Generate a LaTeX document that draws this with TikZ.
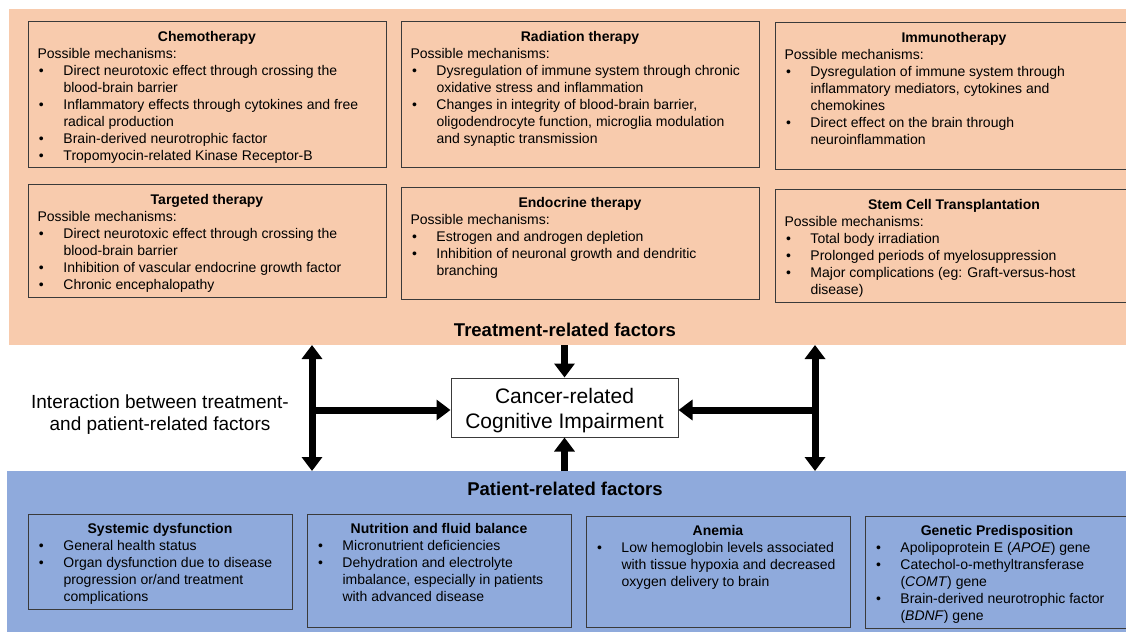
\documentclass[tikz,border=0pt]{standalone}
\usepackage{fontspec}
\setmainfont{Liberation Sans}
\usetikzlibrary{arrows.meta,positioning}
\definecolor{treatcolor}{HTML}{F8CBAD}
\definecolor{patientcolor}{HTML}{8FAADC}
\definecolor{boxline}{HTML}{3A3A3A}
\tikzset{
bgpanel/.style={anchor=north west,inner sep=0pt,outer sep=0pt,fill=#1},
mechbox/.style={draw=boxline,line width=1pt,anchor=north west,inner xsep=9.5pt,inner ysep=#1,outer sep=0pt},
mechbox/.default=9pt,
fatarr/.style={line width=7pt,-{Triangle[width=20pt,length=14pt]}},
fatdarr/.style={line width=7pt,{Triangle[width=20pt,length=14pt]}-{Triangle[width=20pt,length=14pt]}},
}
\tikzstyle{every node}=[font=\fontsize{14}{17}\selectfont]
\newcommand{\bitem}[1]{\par\hangindent=26pt\hangafter=1\noindent\makebox[26pt][l]{\hspace{1.5pt}\textbullet}#1}
\newcommand{\mechtext}[4]{\parbox[c][#2][t]{#1}{\raggedright{\centering\textbf{#3}\par}#4}}

\begin{document}
\begin{tikzpicture}[x=1pt,y=-1pt]
        \useasboundingbox (0,0) rectangle (1126,636);

        \node[bgpanel=treatcolor,minimum width=1117pt,minimum height=336pt] (treat) at (9,9) {};
        \node[bgpanel=patientcolor,minimum width=1119pt,minimum height=161pt] (patient) at (7,471) {};

        \node[mechbox] (chemo) at (28,22) {\mechtext{339pt}{128pt}{Chemotherapy}{Possible mechanisms:
        \bitem{Direct neurotoxic effect through crossing the\newline blood-brain barrier}
        \bitem{Inflammatory effects through cytokines and free\newline radical production}
        \bitem{Brain-derived neurotrophic factor}
        \bitem{Tropomyocin-related Kinase Receptor-B}}};
        \node[mechbox] (radio) at (401,22) {\mechtext{339pt}{128pt}{Radiation therapy}{Possible mechanisms:
        \bitem{Dysregulation of immune system through chronic\newline oxidative stress and inflammation}
        \bitem{Changes in integrity of blood-brain barrier,\newline oligodendrocyte function, microglia modulation\newline and synaptic transmission}}};
        \node[mechbox] (immuno) at (775,23) {\mechtext{339pt}{129pt}{Immunotherapy}{Possible mechanisms:
        \bitem{Dysregulation of immune system through\newline inflammatory mediators, cytokines and\newline chemokines}
        \bitem{Direct effect on the brain through\newline neuroinflammation}}};
        \node[mechbox] (target) at (28,185) {\mechtext{339pt}{94pt}{Targeted therapy}{Possible mechanisms:
        \bitem{Direct neurotoxic effect through crossing the\newline blood-brain barrier}
        \bitem{Inhibition of vascular endocrine growth factor}
        \bitem{Chronic encephalopathy}}};
        \node[mechbox] (endo) at (401,188) {\mechtext{339pt}{93pt}{Endocrine therapy}{Possible mechanisms:
        \bitem{Estrogen and androgen depletion}
        \bitem{Inhibition of neuronal growth and dendritic\newline branching}}};
        \node[mechbox] (stem) at (775,190) {\mechtext{339pt}{94pt}{Stem Cell Transplantation}{Possible mechanisms:
        \bitem{Total body irradiation}
        \bitem{Prolonged periods of myelosuppression}
        \bitem{Major complications (eg: Graft-versus-host\newline disease)}}};

        \node[font=\fontsize{18.5}{22}\selectfont\bfseries] (treattitle) at (565,330) {Treatment-related factors};
        \node[font=\fontsize{18.5}{22}\selectfont\bfseries] (patienttitle) at (565,489) {Patient-related factors};

        \node[mechbox] (systemic) at (28,514) {\mechtext{245pt}{77pt}{Systemic dysfunction}{%
        \bitem{General health status}
        \bitem{Organ dysfunction due to disease\newline progression or/and treatment\newline complications}}};
        \node[mechbox] (nutri) at (307,514) {\mechtext{245pt}{95pt}{Nutrition and fluid balance}{%
        \bitem{Micronutrient deficiencies}
        \bitem{Dehydration and electrolyte\newline imbalance, especially in patients\newline with advanced disease}}};
        \node[mechbox] (anemia) at (586,516) {\mechtext{245pt}{93pt}{Anemia}{%
        \bitem{Low hemoglobin levels associated\newline with tissue hypoxia and decreased\newline oxygen delivery to brain}}};
        \node[mechbox] (genetic) at (865,516) {\mechtext{245pt}{94pt}{Genetic Predisposition}{%
        \bitem{Apolipoprotein E (\textit{APOE}) gene}
        \bitem{Catechol-o-methyltransferase\newline (\textit{COMT}) gene}
        \bitem{Brain-derived neurotrophic factor\newline (\textit{BDNF}) gene}}};

        \node[draw=boxline,line width=1pt,fill=white,minimum width=227pt,minimum height=59pt,align=center,
        font=\fontsize{21}{25}\selectfont] (cri) at (564.5,407.5) {\rule{0pt}{21pt}Cancer-related\\Cognitive Impairment};
        \node[align=center,font=\fontsize{19}{22}\selectfont] (inter) at (160,415) {Interaction between treatment-\\and patient-related factors};

        \coordinate (lx) at (312,410);
        \coordinate (rx) at (815,410);
        \draw[fatdarr] (treat.south -| lx) -- (patient.north -| lx);
        \draw[fatdarr] (treat.south -| rx) -- (patient.north -| rx);
        \draw[fatarr] (lx) -- (cri.west |- lx);
        \draw[fatarr] (rx) -- (cri.east |- rx);
        \draw[fatarr] (treat.south -| cri) -- (cri.north);
        \draw[fatarr] (patient.north -| cri) -- (cri.south);
    \end{tikzpicture}
\end{document}
